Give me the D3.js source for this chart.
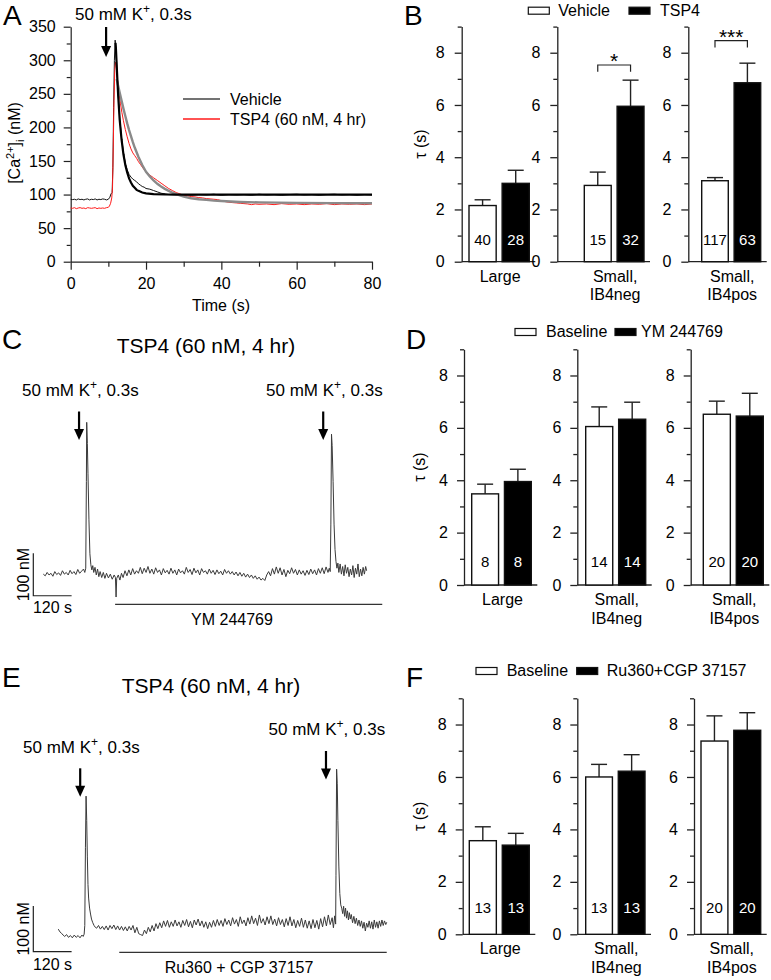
<!DOCTYPE html>
<html><head><meta charset="utf-8">
<script src="https://cdn.jsdelivr.net/npm/d3@7"></script>
<style>
body{margin:0;background:#fff}
svg{display:block}
text{font-family:"Liberation Sans",Arial,sans-serif;fill:#000}
</style>
</head><body>
<svg id="fig" width="771" height="980"></svg>
<script>
// ---------------- DATA ----------------
// Panel A: [time s, Ca nM]
const aVehicle = [[0,93],[0.5,92.5],[1,93],[1.5,92],[2,93.5],[2.5,92.5],[3,93],[3.5,92],[4,93],[4.5,93.5],[5,92],[5.5,93],[6,92.5],[6.5,93.5],[7,92],[7.5,93],[8,92.5],[8.5,93.5],[9,93],[9.5,92],[10,93],[10.4,96],[10.7,101],[11.0,103],[11.2,140],[11.4,230],[11.6,300],[11.8,330],[12.0,318],[12.3,285],[12.6,250],[13.0,215],[13.5,185],[14.0,163],[14.5,147],[15.0,137],[15.5,130],[16,126],[16.5,123],[17,121],[17.5,119],[18,116],[18.5,114],[19,112],[19.5,111],[20,109],[21,108],[22,106],[23,104],[24,102],[25,101],[26,100],[28,99.5],[30,100],[32,99],[34,100],[36,99.5],[38,100.5],[40,99],[42,100],[44,99.5],[46,100],[48,99],[50,100.5],[52,99.5],[54,100],[56,99],[58,100],[60,100.5],[62,99.5],[64,100],[66,99],[68,100],[70,100.5],[72,99.5],[74,100],[76,99],[78,100],[80,99.5]];
const aVehicleFit = [[11.9,326],[12.0,318],[12.3,282],[12.6,248],[13,212],[13.5,182],[14,160],[14.5,144],[15,133],[15.5,124],[16,118],[16.5,113],[17,110],[17.5,107],[18,105.5],[19,103],[20,101.8],[22,100.7],[25,100.2],[30,100],[80,100]];
const aTSP4 = [[0,80],[0.5,79.5],[1,80.5],[1.5,79],[2,80],[2.5,80.5],[3,79.5],[3.5,80],[4,79],[4.5,80.5],[5,80],[5.5,79.5],[6,80],[6.5,80.5],[7,79],[7.5,80],[8,79.5],[8.5,80],[9,79.5],[9.5,80.5],[10,81],[10.3,83],[10.6,87],[10.9,95],[11.1,110],[11.3,170],[11.5,240],[11.7,285],[11.9,297],[12.1,292],[12.4,272],[12.8,252],[13.2,236],[13.6,222],[14,210],[14.5,197],[15,186],[15.5,176],[16,168],[16.5,162],[17,158],[17.5,154],[18,149],[18.5,145],[19,141],[19.5,137],[20,134],[21,129],[22,125],[23,121],[24,117],[25,113],[26,109],[27,106],[28,103],[29,101],[30,99],[31,98],[32,97],[33,96.5],[34,95.5],[35,95],[36,94],[37,93.5],[38,93],[39,92.5],[40,91],[41,89.5],[42,88.5],[43,88],[44,87.5],[45,87],[46,86.5],[47,86],[48,85],[49,86],[50,85.5],[52,86],[54,85],[56,86.5],[58,85.5],[60,86],[62,85],[64,86],[66,85.5],[68,86.5],[70,85],[72,86],[74,85.5],[76,86],[78,85],[80,86]];
const aTSP4Fit = [[12.2,272],[12.6,262],[13,252],[13.5,240],[14,228],[14.5,217],[15,206],[15.5,196],[16,187],[16.5,178],[17,170],[17.5,163],[18,156],[19,144],[20,134],[21,127],[22,121],[23,116],[24,112],[25,108.5],[26,105.5],[27,103],[28,100.5],[29,98.7],[30,97],[32,94.5],[34,93],[36,92],[38,91],[40,90.3],[45,89],[50,88.3],[60,87.6],[70,87.3],[80,87.1]];
const aStimTime = 9.4;
const aXTicks = [0,20,40,60,80];
const aYTicks = [0,50,100,150,200,250,300,350];

// Panel C: [time s, Ca nM]
const cTrace = [[0,82],[6,78],[12,86],[18,80],[24,84],[30,77],[36,88],[42,81],[48,85],[54,79],[60,90],[66,82],[72,86],[78,80],[84,91],[90,83],[96,88],[102,81],[108,93],[114,84],[120,89],[126,94],[130,86],[133,96],[135,300],[136,440],[138,390],[140,320],[143,210],[146,130],[149,104],[152,92],[155,102],[158,86],[162,98],[166,80],[170,94],[174,76],[178,88],[183,74],[188,86],[193,72],[198,84],[204,73],[210,82],[216,70],[222,80],[226,74],[228,28],[230,72],[235,80],[240,68],[245,84],[250,74],[256,90],[262,78],[268,92],[274,80],[280,95],[286,82],[292,90],[298,84],[304,98],[310,83],[316,96],[322,86],[328,100],[334,84],[340,94],[346,82],[352,97],[358,86],[364,92],[370,80],[376,95],[382,85],[388,91],[394,82],[400,96],[406,84],[412,92],[418,80],[424,94],[430,85],[436,90],[442,82],[448,98],[454,86],[460,93],[466,81],[472,96],[478,85],[484,92],[490,80],[496,95],[502,86],[508,90],[514,82],[520,94],[526,84],[532,91],[538,81],[544,92],[550,83],[556,89],[562,80],[568,93],[574,84],[580,90],[586,82],[592,88],[598,80],[604,87],[610,78],[616,86],[622,77],[628,84],[634,75],[640,82],[646,74],[652,80],[658,72],[664,78],[670,70],[676,75],[682,68],[688,72],[694,67],[700,80],[706,88],[712,78],[718,95],[724,82],[730,99],[736,84],[742,97],[748,80],[754,93],[760,76],[766,91],[772,83],[778,97],[784,84],[790,93],[796,80],[802,92],[808,82],[814,90],[820,79],[826,91],[832,81],[838,94],[844,83],[850,92],[856,80],[862,95],[868,84],[874,97],[880,83],[886,99],[892,86],[896,96],[899,88],[901,200],[903,412],[905,385],[908,300],[911,200],[914,140],[917,112],[920,96],[923,108],[926,86],[930,106],[934,82],[938,100],[942,78],[946,104],[950,84],[954,98],[958,76],[962,94],[966,80],[970,102],[974,74],[978,96],[982,82],[986,106],[990,76],[994,94],[998,78],[1002,98],[1006,82],[1010,100],[1013,90]];
const cStimTimes = [112, 877];
const cDrug = [225, 1062];

// Panel E: [time s, Ca nM]
const eTrace = [[0,82],[5,76],[10,73],[15,69],[20,66],[26,70],[32,64],[38,68],[44,63],[50,69],[56,64],[62,68],[68,63],[74,69],[78,66],[81,71],[83,90],[85,260],[87,373],[89,320],[91,240],[93,180],[95,150],[98,128],[101,115],[104,104],[108,96],[112,90],[116,86],[120,84],[126,90],[132,82],[138,88],[144,81],[150,89],[156,80],[162,90],[168,83],[174,91],[180,81],[186,89],[192,80],[198,88],[204,79],[210,87],[216,78],[222,88],[228,80],[234,90],[240,74],[246,86],[252,72],[258,70],[264,68],[270,80],[276,72],[282,86],[288,76],[294,90],[300,78],[306,94],[312,83],[318,96],[324,85],[330,100],[336,88],[342,101],[348,86],[354,98],[360,88],[366,102],[372,89],[378,98],[384,86],[390,101],[396,90],[402,103],[408,87],[414,99],[420,85],[426,102],[432,91],[438,104],[444,89],[450,100],[456,86],[462,98],[468,83],[474,97],[480,86],[486,101],[492,88],[498,103],[504,90],[510,101],[516,88],[522,105],[528,92],[534,102],[540,89],[546,107],[552,93],[558,103],[564,88],[570,109],[576,94],[582,102],[588,89],[594,107],[600,93],[606,111],[612,94],[618,106],[624,90],[630,113],[636,95],[642,105],[648,91],[654,109],[660,94],[666,111],[672,92],[678,104],[684,89],[690,107],[696,92],[702,103],[708,87],[714,105],[720,90],[726,109],[732,89],[738,103],[744,85],[750,101],[756,88],[762,106],[768,86],[774,102],[780,84],[786,100],[792,83],[798,103],[804,85],[810,101],[816,82],[822,105],[828,87],[834,109],[840,89],[846,113],[852,92],[858,107],[862,85],[866,111],[869,93],[870,200],[872,432],[874,400],[876,320],[879,220],[882,160],[885,135],[888,128],[891,116],[894,132],[897,110],[900,128],[903,106],[906,122],[909,102],[912,118],[915,104],[918,114],[922,96],[926,110],[930,94],[934,106],[938,90],[942,102],[946,88],[950,100],[954,84],[958,97],[962,78],[966,95],[970,86],[974,100],[978,84],[982,98],[986,82],[990,102],[994,86],[998,98],[1002,84],[1006,100],[1010,88],[1014,102],[1018,90],[1022,100],[1026,92],[1029,97]];
const eStimTimes = [68.6, 838.7];
const eDrug = [191, 1029];

// Bar panels
const barCategories = [["Large"],["Small,","IB4neg"],["Small,","IB4pos"]];
const bVehicle = [2.15, 2.92, 3.10], bVehicleErr = [0.22, 0.51, 0.12];
const bTSP4 = [3.00, 5.95, 6.85], bTSP4Err = [0.50, 1.00, 0.75];
const bN = [[40,28],[15,32],[117,63]];
const bSig = ["", "*", "***"];
const dBaseline = [3.48, 6.05, 6.52], dBaselineErr = [0.37, 0.75, 0.50];
const dYM = [3.95, 6.33, 6.45], dYMErr = [0.47, 0.65, 0.87];
const dN = [[8,8],[14,14],[20,20]];
const fBaseline = [3.57, 6.00, 7.37], fBaselineErr = [0.53, 0.48, 0.96];
const fRu = [3.40, 6.22, 7.78], fRuErr = [0.45, 0.63, 0.67];
const fN = [[13,13],[13,13],[20,20]];
const tauMajor = [0,2,4,6,8], tauMinor = [1,3,5,7,9];

// ---------------- DRAW ----------------
const svg = d3.select("#fig");
const FS = 16;
const FF = "Liberation Sans, Arial, sans-serif";

function kLabel(g, x, y) {
  const t = g.append("text").attr("x", x).attr("y", y).attr("font-size", 17);
  t.append("tspan").text("50 mM K");
  t.append("tspan").attr("dy", -7).attr("font-size", 12).text("+");
  t.append("tspan").attr("dy", 7).text(", 0.3s");
}
function arrow(g, x, y1, y2) {
  g.append("line").attr("x1", x).attr("x2", x).attr("y1", y1).attr("y2", y2 - 8).attr("stroke", "#000").attr("stroke-width", 2.2);
  g.append("path").attr("d", `M${x-5},${y2-11} L${x+5},${y2-11} L${x},${y2} Z`).attr("fill", "#000");
}
function panelLetter(x, y, s) {
  svg.append("text").attr("x", x).attr("y", y).attr("font-size", 28).text(s);
}

// ---- Panel A ----
(function(){
  const g = svg.append("g");
  const x = d3.scaleLinear().domain([0,80]).range([70.7,372]);
  const y = d3.scaleLinear().domain([0,350]).range([261.7,26.7]);
  g.append("g").attr("transform","translate(70.7,0)")
    .call(d3.axisLeft(y).tickValues(aYTicks).tickSize(7).tickPadding(8).tickSizeOuter(0));
  g.append("g").attr("transform","translate(70.7,0)")
    .call(d3.axisLeft(y).tickValues(d3.range(25,350,50)).tickSize(4).tickFormat("").tickSizeOuter(0))
    .select(".domain").remove();
  g.append("g").attr("transform","translate(0,261.7)")
    .call(d3.axisBottom(x).tickValues(aXTicks).tickSize(8).tickPadding(8).tickSizeOuter(0));
  g.append("g").attr("transform","translate(0,261.7)")
    .call(d3.axisBottom(x).tickValues([10,30,50,70]).tickSize(5).tickFormat("").tickSizeOuter(0))
    .select(".domain").remove();
  g.selectAll(".tick text").attr("font-size", FS).attr("font-family", FF);
  g.selectAll(".domain, .tick line").attr("stroke", "#222").attr("stroke-width", 1.2);

  const line = d3.line().x(d => x(d[0])).y(d => y(d[1]));
  g.append("path").datum(aVehicle).attr("d", line).attr("fill","none").attr("stroke","#111").attr("stroke-width",1);
  g.append("path").datum(aTSP4).attr("d", line).attr("fill","none").attr("stroke","#ff1a1a").attr("stroke-width",1);
  g.append("path").datum(aTSP4Fit).attr("d", line).attr("fill","none").attr("stroke","#8a8a8a").attr("stroke-width",2.4);
  g.append("path").datum(aVehicleFit).attr("d", line).attr("fill","none").attr("stroke","#000").attr("stroke-width",2.2);

  // legend
  g.append("line").attr("x1",183).attr("x2",220).attr("y1",99).attr("y2",99).attr("stroke","#444").attr("stroke-width",1.3);
  g.append("text").attr("x",230).attr("y",104.5).attr("font-size",FS).text("Vehicle");
  g.append("line").attr("x1",183).attr("x2",220).attr("y1",119).attr("y2",119).attr("stroke","#ff1a1a").attr("stroke-width",1.3);
  g.append("text").attr("x",230).attr("y",124.5).attr("font-size",FS).text("TSP4 (60 nM, 4 hr)");

  kLabel(g, 75, 19.5);
  arrow(g, x(aStimTime), 27, 57);

  g.append("text").attr("x",221).attr("y",311).attr("text-anchor","middle").attr("font-size",FS).text("Time (s)");
  const yl = g.append("text").attr("transform","translate(20,143) rotate(-90)").attr("text-anchor","middle").attr("font-size",FS);
  yl.append("tspan").text("[Ca");
  yl.append("tspan").attr("dy",-6).attr("font-size",11).text("2+");
  yl.append("tspan").attr("dy",6).text("]");
  yl.append("tspan").attr("dy",4).attr("font-size",11).text("i");
  yl.append("tspan").attr("dy",-4).text("  (nM)");
})();
panelLetter(3, 25, "A");

// ---- Trace panels C, E ----
function tracePanel(opt) {
  const g = svg.append("g");
  const x = d3.scaleLinear().domain([0,120]).range([opt.x0, opt.x0 + 38.3]);
  const y = d3.scaleLinear().domain([0,100]).range([opt.y0, opt.y0 - opt.px100]);
  const line = d3.line().x(d => x(d[0])).y(d => y(d[1]));
  g.append("path").datum(opt.data).attr("d", line).attr("fill","none").attr("stroke","#3a3a3a").attr("stroke-width",1);
  // scale bar
  const sbX = x(opt.sbT), sbY = y(opt.sbV);
  g.append("path").attr("d", `M${sbX},${y(opt.sbV+100)} L${sbX},${sbY} L${x(opt.sbT+120)},${sbY}`)
    .attr("fill","none").attr("stroke","#222").attr("stroke-width",1.2);
  g.append("text").attr("transform",`translate(${sbX-4},${(y(opt.sbV+100)+sbY)/2}) rotate(-90)`)
    .attr("text-anchor","middle").attr("font-size",FS).text("100 nM");
  g.append("text").attr("x", (sbX + x(opt.sbT+120))/2).attr("y", opt.sbTextY).attr("text-anchor","middle").attr("font-size",FS).text("120 s");
  // drug bar
  g.append("line").attr("x1", x(opt.drug[0])).attr("x2", x(opt.drug[1])).attr("y1", opt.drugY).attr("y2", opt.drugY)
    .attr("stroke","#333").attr("stroke-width",1.2);
  g.append("text").attr("x", opt.drugTextX).attr("y", opt.drugY + 21).attr("text-anchor","middle").attr("font-size",FS).text(opt.drugName);
  // title
  g.append("text").attr("x", opt.titleX).attr("y", opt.titleY).attr("text-anchor","middle").attr("font-size",21).text("TSP4 (60 nM, 4 hr)");
  // stimuli
  opt.stim.forEach((t, i) => {
    kLabel(g, opt.kX[i], opt.kY[i]);
    arrow(g, x(t), opt.arrY[i], opt.arrY[i] + 28.5);
  });
}
tracePanel({data: cTrace, x0: 43.3, y0: 608.9, px100: 42.4, sbT: -31.3, sbV: 31, sbTextY: 613,
  drug: cDrug, drugY: 604.3, drugTextX: 232, drugName: "YM 244769",
  titleX: 206, titleY: 353, stim: cStimTimes, kX: [22, 266], kY: [396, 396], arrY: [411.5, 411.5]});
tracePanel({data: eTrace, x0: 58.3, y0: 966.6, px100: 45.7, sbT: -78.3, sbV: 32.6, sbTextY: 970,
  drug: eDrug, drugY: 952.3, drugTextX: 239, drugName: "Ru360 + CGP 37157",
  titleX: 211, titleY: 692.5, stim: eStimTimes, kX: [23, 268.5], kY: [752.5, 735], arrY: [768.3, 751]});
panelLetter(2, 349, "C");
panelLetter(2, 687, "E");

// ---- Bar panels ----
function barPanel(opt) {
  const g = svg.append("g");
  const y = d3.scaleLinear().domain([0,9]).range([opt.y0, opt.yTop]);
  for (let i = 0; i < 3; i++) {
    const ax = opt.axisX[i];
    const xb = d3.scaleBand().domain([0,1]).range(opt.barRange[i]).paddingInner(0.18);
    const ga = g.append("g").attr("transform",`translate(${ax},0)`)
      .call(d3.axisLeft(y).tickValues(tauMajor).tickSize(7).tickPadding(opt.pad).tickSizeOuter(0));
    ga.selectAll(".tick text").attr("font-size", FS).attr("font-family", FF);
    const gm = g.append("g").attr("transform",`translate(${ax},0)`)
      .call(d3.axisLeft(y).tickValues(tauMinor).tickSize(4).tickFormat("").tickSizeOuter(0));
    gm.select(".domain").remove();
    g.append("line").attr("x1", ax).attr("x2", opt.barRange[i][1] + 6).attr("y1", opt.y0).attr("y2", opt.y0)
      .attr("stroke","#222").attr("stroke-width",1.3);
    const vals = [opt.a[i], opt.b[i]], errs = [opt.aErr[i], opt.bErr[i]];
    vals.forEach((v, k) => {
      const bx = xb(k), bw = xb.bandwidth(), cx = bx + bw/2;
      g.append("line").attr("x1",cx).attr("x2",cx).attr("y1",y(v)).attr("y2",y(v+errs[k])).attr("stroke","#222").attr("stroke-width",1.4);
      g.append("line").attr("x1",cx-8).attr("x2",cx+8).attr("y1",y(v+errs[k])).attr("y2",y(v+errs[k])).attr("stroke","#222").attr("stroke-width",1.4);
      g.append("rect").attr("x",bx).attr("y",y(v)).attr("width",bw).attr("height",opt.y0 - y(v))
        .attr("fill", k ? "#000" : "#fff").attr("stroke","#111").attr("stroke-width",1.4);
      g.append("text").attr("x",cx).attr("y",opt.y0 - opt.nOff).attr("text-anchor","middle").attr("font-size",15)
        .style("fill", k ? "#fff" : "#000").text(opt.n[i][k]);
    });
    const gc = (opt.barRange[i][0] + opt.barRange[i][1]) / 2 + 1;
    barCategories[i].forEach((s, j) => {
      g.append("text").attr("x", gc).attr("y", opt.y0 + 20 + j*18.5).attr("text-anchor","middle").attr("font-size",FS).text(s);
    });
    if (opt.sig && opt.sig[i]) {
      const c0 = xb(0) + xb.bandwidth()/2, c1 = xb(1) + xb.bandwidth()/2;
      const top = opt.sigLevel[i];
      g.append("path").attr("d", `M${c0},${y(top-0.26)} L${c0},${y(top)} L${c1},${y(top)} L${c1},${y(top-0.26)}`)
        .attr("fill","none").attr("stroke","#222").attr("stroke-width",1.2);
      g.append("text").attr("x",(c0+c1)/2).attr("y",y(top) + 3).attr("text-anchor","middle").attr("font-size",21).text(opt.sig[i]);
    }
  }
  g.selectAll(".domain, .tick line").attr("stroke","#222").attr("stroke-width",1.3);
  // tau label
  g.append("text").attr("transform",`translate(${opt.tauX},${(opt.y0+opt.yTop)/2}) rotate(-90)`).attr("text-anchor","middle")
    .attr("font-size",FS).text("\u03C4 (s)");
  // legend
  const L = opt.legend;
  g.append("rect").attr("x",L.r1).attr("y",L.y-7).attr("width",21).attr("height",7).attr("fill","#fff").attr("stroke","#111").attr("stroke-width",1.2);
  g.append("text").attr("x",L.t1).attr("y",L.y+1.5).attr("font-size",FS).text(L.s1);
  g.append("rect").attr("x",L.r2).attr("y",L.y-7).attr("width",21).attr("height",7).attr("fill","#000").attr("stroke","#111").attr("stroke-width",1.2);
  g.append("text").attr("x",L.t2).attr("y",L.y+1.5).attr("font-size",FS).text(L.s2);
}
barPanel({y0: 261.7, yTop: 26.6, axisX: [461.7, 557.3, 688.3], pad: 10,
  barRange: [[469, 529.3], [584.3, 644], [701.7, 760.7]],
  a: bVehicle, aErr: bVehicleErr, b: bTSP4, bErr: bTSP4Err, n: bN, nOff: 17,
  sig: bSig, sigLevel: [0, 7.53, 8.46], tauX: 426,
  legend: {y: 14.2, r1: 528.3, t1: 558.3, s1: "Vehicle", r2: 629, t2: 660, s2: "TSP4"}});
barPanel({y0: 585, yTop: 349.3, axisX: [464, 577.3, 690.7], pad: 9,
  barRange: [[471.7, 531.3], [585.7, 645.7], [703.3, 763.3]],
  a: dBaseline, aErr: dBaselineErr, b: dYM, bErr: dYMErr, n: dN, nOff: 18.5,
  tauX: 425,
  legend: {y: 335.5, r1: 515, t1: 546, s1: "Baseline", r2: 615, t2: 641, s2: "YM 244769"}});
barPanel({y0: 934.3, yTop: 698.3, axisX: [462.7, 577.3, 694], pad: 9,
  barRange: [[469.3, 529.3], [585.7, 645], [701, 760.7]],
  a: fBaseline, aErr: fBaselineErr, b: fRu, bErr: fRuErr, n: fN, nOff: 21,
  tauX: 425,
  legend: {y: 674.5, r1: 476, t1: 506.7, s1: "Baseline", r2: 576.7, t2: 606.7, s2: "Ru360+CGP 37157"}});
panelLetter(404, 25, "B");
panelLetter(406, 349, "D");
panelLetter(406, 687, "F");
</script>
</body></html>
